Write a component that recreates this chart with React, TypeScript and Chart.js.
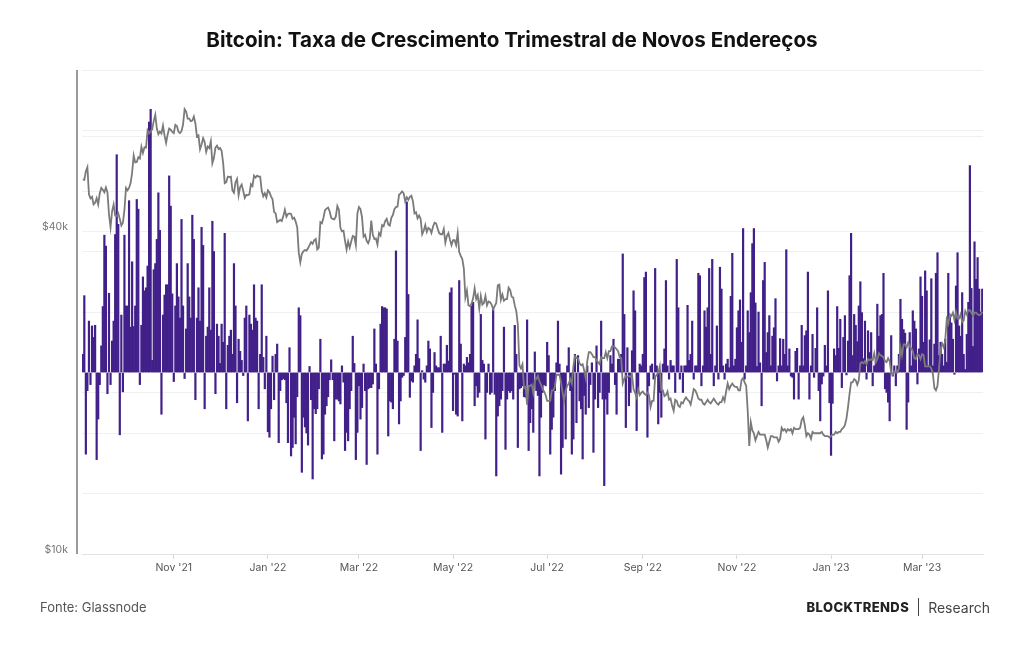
import React, { useEffect, useRef } from "react";
import { Chart, registerables } from "chart.js";

Chart.register(...registerables);

// ---- Data -------------------------------------------------------------
const START_DATE_UTC = [2021, 8, 3]; // 3 Sep 2021, daily series

// Quarterly growth rate of new addresses (daily values)
const growth2021 = [
  0.3, 1.27, -1.35, -0.3, 0.85, -0.2, 0.77, 0.58, 0.78, -1.44,
  -0.77, -0.2, 0.44, 1.09, 2.27, 2.09, -0.35, 1.31, -0.2, 0.52,
  0.85, 2.28, 3.6, 2.45, -1.03, 0.95, -0.32, 2.27, 1.1, 1.1,
  2.84, 0.75, 1.83, 0.76, 1.1, 2.86, 2.7, -0.2, 0.78, 1.58,
  1.35, 1.4, 1.76, 4.14, 4.35, 0.2, 1.7, 1.8, 2.2, 2.97,
  2.35, -0.69, 0.95, 1.28, 1.45, 1.45, 3.25, 2.75, 1.3, -0.15,
  1.1, 1.8, 1.25, 0.9, 2.53, 1.1, -0.1, 0.72, 1.8, 1.25,
  0.9, 2.6, 2.2, -0.45, 0.9, 1.4, 0.85, 2.4, 2.1, -0.6,
  0.6, 0.75, 1.4, 0.7, 2.5, 2.0, -0.35, 0.8, 0.6, 0.15,
  0.8, 0.5, 2.3, -0.6, 0.45, 0.6, 0.7, 0.3, 1.8, 1.1,
  -0.5, 0.55, 0.35, 0.2, -0.05, 0.9, 1.1, -0.8, 0.95, 0.8,
  0.7, 1.45, 0.9, 0.85, -0.6, 0.3, 1.45, 0.25, -0.27, 0.6,
];
const growth2022H1 = [
  -0.98, -1.07, -0.6, 0.27, -0.45, 0.3, 0.47, -1.16, -0.3, -0.12,
  -0.1, -0.12, -0.5, -1.16, 0.41, -1.38, -1.24, -0.74, -1.18, -0.4,
  1.07, 0.94, -1.65, -0.74, -0.9, -1.0, -1.2, 0.1, -0.45, -1.76,
  -0.6, -0.68, -0.6, -0.27, 0.55, -1.43, -1.35, -0.69, -0.55, -0.4,
  -0.12, 0.21, -0.12, -1.13, -0.44, -0.44, -0.47, -0.52, 0.11, -0.16,
  -1.29, -0.99, -1.13, -0.6, -0.3, 0.6, 0.15, -1.44, -0.99, -0.22,
  -0.77, -0.58, 0.14, -0.3, -1.52, -0.27, -0.25, -0.25, -0.19, 0.72,
  0.14, -1.35, -0.27, 0.8, 1.09, 1.07, 1.07, 1.05, -1.05, -0.47,
  -0.49, -0.6, 0.55, 2.01, 0.52, -0.85, -0.47, -0.08, -0.05, 0.58,
  2.82, 1.29, -0.41, -0.14, -0.16, 0.11, 0.3, 0.87, 0.23, -1.29,
  0.03, -0.11, -0.16, 0.11, 0.52, 0.39, -0.91, -0.33, 0.33, 0.11,
  0.08, 0.08, 0.6, -0.99, 0.14, 0.14, 0.45, 0.19, 1.32, 1.4,
  -0.63, -0.03, -0.69, -0.72, 1.52, 0.47, -0.8, 0.14, 0.11, 0.25,
  0.16, 0.3, 1.1, 1.16, -0.55, -0.22, -0.41, -0.33, 0.96, 0.2,
  0.14, -1.1, -0.33, 0.14, -0.36, -0.33, 1.04, -0.36, -1.71, -0.72,
  -0.55, -0.44, -0.3, 0.75, -1.27, -0.44, -0.3, -0.33, -0.3, -0.44,
  0.78, 0.3, -1.24, -0.27, -0.25, -0.22, -0.4, -0.41, 0.87, -1.29,
  -0.83, -0.6, -0.99, 0.34, -0.3, -0.38, -1.71, -0.74, -0.33, -0.2, -0.22,
];
const growth2022H2 = [
  0.5, 0.28, -1.35, -0.94, -0.74, -0.3, 0.16, 0.85, 0.14, -1.68,
  -1.24, -0.47, -1.1, 0.11, 0.41, -0.3, -1.35, -1.1, 0.3, -0.83,
  0.28, -0.47, -0.6, -1.43, -0.38, -0.69, 0.11, -0.58, -0.2, 0.16,
  -1.32, -0.44, 0.44, -0.58, -0.33, 0.85, -0.44, -1.87, -0.44, -0.69,
  -0.33, 0.28, 0.14, 0.55, -0.2, -0.69, 0.22, 0.22, 0.3, 1.96,
  0.96, -0.91, 0.41, -0.55, -0.33, 0.36, 1.35, 1.02, -0.96, -0.33,
  0.14, 0.11, 0.3, 1.57, 1.66, -1.07, -0.22, 0.11, 0.14, -0.11,
  1.72, 0.11, -0.85, -0.33, -0.74, 0.14, 0.39, 1.52, 0.11, -0.11,
  0.2, 0.11, 0.11, -0.33, 1.87, 1.07, -0.11, 0.11, -0.33, 0.11,
  0.11, 1.11, 0.2, 0.3, 0.85, -0.11, 0.11, 0.11, 1.64, 1.6,
  -0.22, 0.11, 1.02, 0.75, 1.07, 1.72, 0.3, 1.87, -0.22, 0.11,
  0.77, -0.11, 1.74, 1.38, 0.11, -0.11, 0.14, 0.22, 0.08, 1.26,
  1.97, 0.11, 0.22, 0.74, 1.02, 1.2, 0.5, 2.38, -0.11, 0.11,
  1.02, 0.66, 1.32, 2.13, 2.38, 1.15, 0.1, 1.0, 0.16, -0.55,
  1.52, 1.82, 0.33, 0.66, 0.94, 0.11, 0.6, 0.74, 1.22, -0.14,
  0.11, 0.56, 0.11, 0.55, 0.3, 2.03, 0.11, 0.39, -0.06, -0.08,
  -0.44, 0.35, 0.4, -0.44, 0.11, 0.78, 0.11, 0.61, 0.69, 1.66,
  -0.44, 0.11, 0.63, -0.08, 0.4, 1.07, -0.3, -0.8, -0.19, -0.06,
  0.45, 0.11, 1.35, -0.5,
];
const growth2023 = [
  -1.37, -0.51, 0.39, 0.28, 1.09, 0.4, 0.88, -0.25, 0.58, 0.94,
  -0.04, 0.52, 1.6, 2.3, 0.28, 0.96, 0.78, 0.51, 1.1, 1.5,
  0.99, 0.23, 0.85, -0.11, 0.69, 0.33, 0.66, -0.22, 0.11, 0.19,
  1.13, 0.6, 0.94, 0.96, 1.64, -0.27, -0.33, -0.49, -0.8, 0.61,
  -0.06, 0.11, -0.22, 0.11, 0.3, 1.21, 0.88, 0.71, 0.65, -0.94,
  -0.49, 0.66, 0.11, 1.02, 0.85, 0.72, -0.19, 0.39, 1.58, 1.26,
  0.5, 1.68, 1.35, 0.11, 0.54, 1.55, 0.11, 0.47, 1.64, 1.98,
  0.28, 0.5, 0.3, 0.11, 0.55, 0.17, 1.64, 0.91, 0.82, 0.55,
  -0.03, 1.43, 1.98, 0.77, 0.6, 1.32, 0.3, 0.05, 0.63, 1.16,
  3.42, 1.39, 0.43, 2.16, 1.54, 1.9, 1.38, 1.0, 1.38,
];

// Bitcoin price (USD thousands), daily
const priceSep21 = [50.0, 49.9, 51.8, 52.7, 46.9, 46.1, 46.4, 44.9, 45.2, 46.1, 44.9, 47.1, 48.2, 47.8, 47.3, 48.3, 47.3, 43.0, 40.7, 43.6, 44.9, 42.8, 42.7, 43.2, 42.2, 41.0, 41.5, 43.8];
const priceOct21 = [48.2, 47.7, 48.2, 49.2, 51.5, 55.4, 53.8, 53.9, 55.0, 54.7, 57.5, 56.0, 57.4, 57.3, 61.7, 60.9, 61.5, 62.0, 64.3, 66.0, 62.2, 60.7, 61.4, 60.9, 63.0, 60.4, 58.5, 60.6, 62.2, 61.9, 61.3];
const priceNov21 = [61.0, 63.2, 62.9, 61.4, 61.0, 61.5, 63.3, 67.6, 66.9, 64.9, 64.9, 64.2, 64.4, 65.5, 63.6, 60.1, 60.4, 56.9, 58.1, 59.7, 58.7, 56.3, 57.6, 57.2, 58.9, 53.6, 54.8, 57.3, 57.8, 57.0];
const priceDec21 = [57.2, 56.5, 53.6, 49.2, 49.4, 50.6, 50.5, 50.6, 47.7, 47.2, 49.4, 50.1, 46.7, 48.4, 48.9, 47.6, 46.2, 46.8, 46.7, 46.9, 49.0, 48.6, 50.8, 50.4, 50.8, 50.6, 50.6, 47.6, 46.5, 47.1, 46.3];
const priceJan22 = [47.7, 47.3, 46.5, 45.9, 43.5, 43.2, 41.6, 41.8, 42.0, 41.8, 42.7, 43.9, 42.6, 43.1, 43.2, 43.1, 42.2, 42.4, 41.7, 40.7, 36.5, 35.0, 36.3, 36.7, 36.9, 36.8, 37.2, 37.7, 38.2, 37.9, 38.5];
const priceFeb22 = [38.7, 37.0, 37.3, 41.6, 41.4, 42.4, 43.8, 44.1, 44.3, 43.6, 42.4, 42.2, 42.1, 42.6, 44.6, 43.9, 40.6, 40.0, 40.1, 38.4, 37.0, 38.3, 37.3, 38.3, 39.2, 39.1, 37.7, 43.2];
const priceMar22 = [44.4, 44.0, 42.5, 39.1, 39.4, 38.4, 38.0, 38.7, 41.9, 39.4, 38.7, 38.8, 37.8, 39.7, 39.3, 41.1, 40.9, 41.8, 42.2, 41.2, 41.0, 42.4, 42.9, 44.0, 44.4, 44.5, 46.8, 47.1, 47.5, 47.1, 45.5];
const priceApr22 = [46.3, 45.8, 46.4, 46.6, 45.5, 43.2, 43.4, 42.3, 42.8, 42.2, 39.5, 40.1, 41.1, 39.9, 40.6, 40.4, 39.7, 40.8, 41.5, 41.4, 40.5, 39.7, 39.5, 39.5, 40.4, 38.1, 39.2, 39.7, 38.6, 37.7];
const priceMay22 = [38.5, 38.5, 37.7, 39.7, 36.6, 36.0, 35.5, 34.1, 30.1, 31.0, 29.1, 29.0, 29.3, 30.0, 31.3, 29.9, 30.4, 28.7, 30.3, 29.2, 29.4, 30.3, 29.1, 29.6, 29.5, 29.2, 28.6, 29.0, 29.4, 31.7, 31.8];
const priceJun22 = [29.8, 30.5, 29.7, 29.9, 29.9, 31.4, 31.1, 30.2, 30.1, 29.1, 28.4, 26.8, 22.5, 22.2, 22.6, 20.4, 20.5, 19.0, 20.6, 20.6, 20.7, 20.0, 21.1, 21.2, 21.5, 21.0, 20.7, 20.3, 20.1, 19.8];
const priceJul22 = [19.3, 19.3, 19.3, 20.2, 20.2, 20.5, 21.6, 21.6, 21.6, 20.9, 20.0, 19.3, 20.2, 20.6, 20.8, 21.2, 20.8, 22.4, 23.4, 23.2, 23.2, 22.7, 22.5, 22.6, 22.0, 21.3, 22.9, 23.8, 23.8, 23.6, 23.3];
const priceAug22 = [23.3, 23.0, 22.8, 22.6, 23.3, 23.2, 23.2, 23.8, 23.2, 23.9, 23.9, 24.4, 24.4, 24.3, 24.1, 23.9, 23.3, 23.2, 20.8, 21.2, 21.5, 21.4, 21.5, 21.4, 21.6, 20.3, 20.0, 19.6, 20.3, 19.8, 20.0];
const priceSep22 = [20.1, 19.9, 19.8, 20.0, 19.8, 18.8, 19.3, 19.3, 21.4, 21.6, 21.8, 22.4, 20.2, 20.2, 19.7, 19.8, 20.1, 19.4, 19.5, 18.9, 18.5, 19.4, 19.3, 18.9, 18.8, 19.2, 19.1, 19.4, 19.6, 19.4];
const priceOct22 = [19.3, 19.0, 19.6, 20.3, 20.2, 19.9, 19.5, 19.4, 19.4, 19.1, 19.0, 19.2, 19.4, 19.2, 19.1, 19.3, 19.5, 19.3, 19.1, 19.0, 19.2, 19.2, 19.6, 19.3, 20.1, 20.8, 20.3, 20.6, 20.8, 20.6, 20.5];
const priceNov22 = [20.5, 20.2, 20.2, 21.1, 21.3, 20.9, 20.6, 18.5, 15.9, 17.6, 17.0, 16.8, 16.3, 16.6, 16.9, 16.7, 16.7, 16.7, 16.7, 16.3, 15.8, 16.2, 16.6, 16.6, 16.5, 16.5, 16.5, 16.2, 16.4, 17.2];
const priceDec22 = [17.0, 17.1, 16.9, 17.1, 17.0, 17.1, 16.8, 17.2, 17.1, 17.1, 17.1, 17.2, 17.8, 18.0, 17.4, 16.6, 16.8, 16.7, 16.4, 16.9, 16.8, 16.8, 16.8, 16.8, 16.8, 16.9, 16.7, 16.6, 16.6, 16.6, 16.5];
const priceJan23 = [16.6, 16.7, 16.7, 16.9, 16.8, 16.9, 16.9, 17.1, 17.2, 17.4, 17.9, 18.8, 19.9, 20.9, 20.9, 21.2, 21.1, 20.7, 21.1, 22.7, 22.8, 22.7, 22.9, 22.6, 23.1, 23.0, 23.1, 23.0, 23.7, 22.8, 23.1];
const priceFeb23 = [23.7, 23.5, 23.4, 23.3, 22.9, 22.8, 23.2, 22.9, 21.8, 21.6, 21.9, 21.8, 21.8, 22.2, 24.3, 23.5, 24.6, 24.6, 24.3, 24.8, 24.4, 24.2, 23.9, 23.2, 23.1, 23.6, 23.5, 23.1];
const priceMar23 = [23.6, 23.5, 22.4, 22.4, 22.4, 22.4, 22.2, 21.7, 20.4, 20.2, 20.6, 22.2, 24.1, 24.7, 24.3, 25.0, 27.4, 26.9, 28.0, 27.8, 28.2, 27.3, 28.3, 27.5, 27.5, 28.0, 27.1, 27.3, 28.4, 28.0, 28.5];
const priceApr23 = [28.5, 28.2, 27.8, 28.2, 28.2, 28.0, 27.9, 28.0, 28.3];

const monthTickDates = ["2021-11-01", "2022-01-01", "2022-03-01", "2022-05-01", "2022-07-01", "2022-09-01", "2022-11-01", "2023-01-01", "2023-03-01"];
const monthTickLabels = ["Nov '21", "Jan '22", "Mar '22", "May '22", "Jul '22", "Sep '22", "Nov '22", "Jan '23", "Mar '23"];
const priceTickValues = [10, 20, 40, 60, 80];
const priceTickLabels = ["$10k", "", "$40k", "", ""];

const growth = [...growth2021, ...growth2022H1, ...growth2022H2, ...growth2023];
const price = [
  ...priceSep21, ...priceOct21, ...priceNov21, ...priceDec21,
  ...priceJan22, ...priceFeb22, ...priceMar22, ...priceApr22, ...priceMay22, ...priceJun22,
  ...priceJul22, ...priceAug22, ...priceSep22, ...priceOct22, ...priceNov22, ...priceDec22,
  ...priceJan23, ...priceFeb23, ...priceMar23, ...priceApr23,
];
const dates = growth.map((_, i) =>
  new Date(Date.UTC(START_DATE_UTC[0], START_DATE_UTC[1], START_DATE_UTC[2] + i)).toISOString().slice(0, 10)
);
const monthTickIndex = monthTickDates.map((d) => dates.indexOf(d));

const FONT = "Inter, 'Noto Sans', sans-serif";

const leftAxisLine = {
  id: "leftAxisLine",
  afterDraw(chart: any) {
    const { ctx, chartArea } = chart;
    ctx.save();
    ctx.strokeStyle = "#9a9a9a";
    ctx.lineWidth = 2;
    ctx.beginPath();
    ctx.moveTo(chartArea.left - 5, chartArea.top);
    ctx.lineTo(chartArea.left - 5, chartArea.bottom);
    ctx.stroke();
    ctx.restore();
  },
};

export default function App() {
  const ref = useRef<HTMLCanvasElement | null>(null);

  useEffect(() => {
    if (!ref.current) return;
    const chart = new Chart(ref.current, {
      type: "bar",
      data: {
        labels: dates,
        datasets: [
          {
            type: "line",
            label: "Preço BTC",
            data: price,
            yAxisID: "yPrice",
            borderColor: "#7a7a7a",
            borderWidth: 1.8,
            pointRadius: 0,
            tension: 0,
            order: 0,
          } as any,
          {
            type: "bar",
            label: "Crescimento trimestral de novos endereços",
            data: growth,
            yAxisID: "yGrowth",
            backgroundColor: "#42208a",
            barPercentage: 1,
            categoryPercentage: 1,
            order: 1,
          } as any,
        ],
      },
      options: {
        responsive: false,
        animation: false,
        layout: { padding: { top: 70, right: 41, bottom: 61, left: 0 } },
        plugins: {
          legend: { display: false },
          tooltip: { enabled: false },
        },
        scales: {
          x: {
            type: "category",
            offset: true,
            grid: { drawOnChartArea: false, offset: false, color: "#d9d9d9", tickLength: 5 },
            border: { color: "#e3e3e3" },
            ticks: {
              autoSkip: false,
              maxRotation: 0,
              padding: 3,
              color: "#555",
              font: { family: FONT, size: 10.5 },
              callback: (_v: any, i: number) => monthTickLabels[i] ?? "",
            },
            afterBuildTicks: (scale: any) => {
              scale.ticks = monthTickIndex.map((v) => ({ value: v }));
            },
            afterFit: (scale: any) => {
              scale.height = 30;
            },
          },
          yPrice: {
            type: "logarithmic",
            position: "left",
            min: 10,
            max: 80,
            grid: { color: "#f0f0f0", drawTicks: false },
            border: { display: false },
            ticks: {
              padding: 14,
              labelOffset: -4,
              color: "#777",
              font: { family: FONT, size: 10.5 },
              callback: (_v: any, i: number) => priceTickLabels[i] ?? "",
            },
            afterBuildTicks: (scale: any) => {
              scale.ticks = priceTickValues.map((v) => ({ value: v }));
            },
            afterFit: (scale: any) => {
              scale.width = 82;
            },
          },
          yGrowth: {
            type: "linear",
            position: "right",
            min: -3,
            max: 5,
            ticks: { display: false, stepSize: 1 },
            grid: { color: "#f0f0f0", drawTicks: false },
            border: { display: false },
            afterFit: (scale: any) => {
              scale.width = 0;
            },
          },
        },
      } as any,
      plugins: [leftAxisLine],
    });
    return () => chart.destroy();
  }, []);

  return (
    <div style={{ position: "absolute", left: 0, top: 0, width: 1024, height: 645, background: "#fff", fontFamily: FONT }}>
      <canvas ref={ref} width={1024} height={645} style={{ position: "absolute", left: 0, top: 0, width: 1024, height: 645 }} />
      <div
        style={{
          position: "absolute",
          top: 26,
          left: 0,
          width: 1024,
          textAlign: "center",
          fontSize: 20.6,
          fontWeight: 700,
          lineHeight: "28px",
          color: "#111",
        }}
      >
        Bitcoin: Taxa de Crescimento Trimestral de Novos Endereços
      </div>
      <div style={{ position: "absolute", left: 40, top: 597, fontSize: 13, lineHeight: "20px", color: "#555" }}>
        Fonte: Glassnode
      </div>
      <div
        style={{
          position: "absolute",
          right: 34,
          top: 597,
          height: 20,
          display: "flex",
          alignItems: "center",
          color: "#222",
        }}
      >
        <span style={{ fontWeight: 800, fontSize: 13, letterSpacing: 0.4 }}>BLOCKTRENDS</span>
        <span style={{ display: "inline-block", width: 1, height: 18, background: "#444", margin: "0 9px" }} />
        <span style={{ fontSize: 14, color: "#444" }}>Research</span>
      </div>
    </div>
  );
}
